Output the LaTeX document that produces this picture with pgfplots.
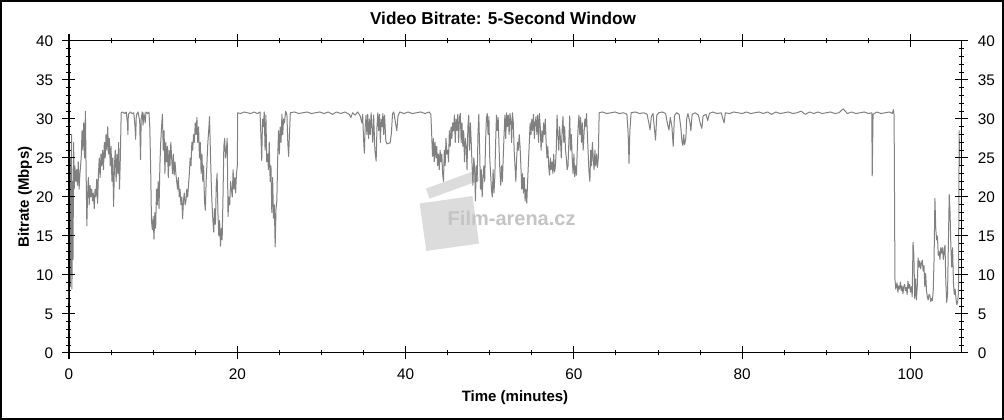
\documentclass[border=0pt]{standalone}
\usepackage{pgfplots}
\pgfplotsset{compat=1.18}
\usepackage{fontspec}
\setmainfont{Liberation Sans}
\definecolor{lineg}{RGB}{128,128,128}
\definecolor{wm}{RGB}{220,220,220}
\definecolor{wmtext}{RGB}{196,196,196}

\pgfplotsset{
  basestyle/.style={
    at={(51.75pt,50.25pt)}, anchor=south west,
    scale only axis, width=669pt, height=234pt,
    xmin=0, xmax=106, ymin=0, ymax=40,
    xtick={0,20,...,100}, ytick={0,5,...,40},
    minor x tick num=3, minor y tick num=4,
    tick align=center,
    major tick length=9.75pt, minor tick length=3.75pt,
    every tick/.style={black, line width=0.75pt},
    axis line style={black, line width=0.75pt},
    /pgf/number format/assume math mode=true,
    ticklabel style={font=\fontsize{11.5}{13}\selectfont},
    clip=false,
  }
}

\pgfplotstableread{
x y
0.00 6.5
0.05 9
0.10 17
0.15 8.5
0.20 25
0.25 10
0.30 28
0.35 8.2
0.42 22
0.48 12
0.55 27
0.62 21
0.70 24
0.80 22
0.90 23.5
1.00 21.5
1.10 24.5
1.20 21
1.30 23
1.45 25
1.55 28.5
1.65 26
1.75 29.5
1.85 25
1.95 31
2.05 22
2.12 16.3
2.20 20
2.30 22.5
2.40 19
2.50 21.5
2.60 20
2.70 21
2.80 19.5
2.90 20.5
3.00 18.5
3.10 21
3.20 20
3.30 22.3
3.40 19.2
3.50 23
3.60 25
3.70 22.5
3.80 25.5
3.90 24
4.00 26
4.10 23.5
4.20 27
4.30 25
4.40 28
4.50 26
4.60 29
4.70 25.5
4.80 27.5
4.90 24
5.00 26.5
5.10 22
5.20 25
5.30 18.8
5.40 24
5.50 26
5.60 22
5.70 25.5
5.80 23
5.90 27
6.00 21
6.10 25
6.20 30.8
6.40 30.9
6.60 30.7
6.80 30.9
6.95 29.5
7.00 28.0
7.05 30.6
7.30 30.9
7.50 30.7
7.70 30.8
7.85 29
7.92 27.4
8.00 30.5
8.20 30.9
8.40 29.8
8.50 24.8
8.58 30
8.70 30.9
8.80 29.2
8.90 30.8
9.05 29.5
9.15 30.9
9.35 30.7
9.50 30.9
9.60 29
9.70 24
9.80 17
9.90 15.8
10.00 17.5
10.10 14.6
10.20 18
10.30 16
10.40 21
10.50 19
10.60 22
10.70 18.5
10.80 24
10.90 27
11.00 29
11.10 30.6
11.20 26
11.30 28.5
11.40 23
11.50 27
11.60 24.5
11.70 26.5
11.80 22.5
11.90 26
12.00 24
12.10 27
12.20 25
12.30 23
12.40 25.5
12.50 22.8
12.60 24.5
12.70 23
12.80 22
12.90 21
13.00 22.5
13.10 20
13.20 21
13.30 19
13.40 20
13.50 17.2
13.60 19.5
13.70 20.5
13.80 19
13.90 19.5
14.00 21
14.10 20
14.20 21.5
14.30 23
14.40 25
14.50 24
14.60 27
14.70 26
14.80 28
14.90 27
15.00 29.5
15.10 28
15.20 30.2
15.30 27
15.40 29
15.50 25
15.60 27
15.70 23
15.80 25.5
15.90 22
16.00 24
16.10 19.5
16.20 18.3
16.30 22
16.40 24.5
16.50 27
16.60 28.5
16.70 30.3
16.80 26
16.90 22
17.00 19
17.10 17
17.20 15.5
17.30 18.5
17.40 16.5
17.50 21.5
17.60 23
17.70 18
17.80 15
17.90 17
18.00 13.7
18.10 16
18.20 14.5
18.30 20
18.40 26.5
18.50 27.5
18.60 25
18.70 26
18.80 27.5
18.90 17.5
19.00 20
19.10 19
19.20 22
19.30 21
19.40 20
19.50 23.5
19.60 21
19.70 22.5
19.80 20.5
19.90 23
20.00 24
20.05 30.8
20.40 30.7
20.80 30.9
21.20 30.8
21.60 30.7
22.00 30.9
22.40 30.7
22.70 30.9
22.80 28
22.90 24.7
23.00 30
23.10 29
23.20 30.9
23.30 26
23.40 30.5
23.50 24.5
23.60 25.5
23.70 23.5
23.80 27
23.90 22
24.00 24
24.10 18
24.20 22.5
24.30 17.3
24.40 19
24.50 13.6
24.60 18.5
24.70 19.5
24.80 25
24.90 28.5
25.00 25.5
25.10 29
25.20 27
25.30 30.6
25.40 28
25.50 30
25.60 29.5
25.75 31
25.90 30.5
26.00 27
26.10 25.2
26.20 28
26.30 30.8
26.8 30.9
27.3 30.7
27.8 30.8
28.3 30.9
28.8 30.7
29.3 30.8
29.8 30.9
30.3 30.7
30.8 30.9
31.3 30.6
31.8 30.9
32.3 30.7
32.8 30.9
33.3 30.6
33.5 30.2
33.7 30.8
34.0 30.5
34.3 30.9
34.6 30.4
34.8 29.5
34.9 30.6
35.00 27.5
35.10 25.6
35.20 29
35.30 30.5
35.40 28
35.50 30.6
35.60 27.5
35.70 30
35.80 28
35.90 30.8
36.00 29
36.10 27
36.20 30.5
36.35 26
36.50 24.6
36.60 29
36.70 30.8
36.80 28.5
36.90 30.6
37.00 27
37.10 30
37.20 29
37.30 30.7
37.40 28
37.50 30.5
37.65 27.2
37.80 26.8
38.00 26.9
38.15 26.9
38.30 28
38.45 30.7
38.60 30.9
38.80 29.5
38.95 28.5
39.10 30.4
39.30 30.9
39.8 30.7
40.3 30.9
40.8 30.7
41.3 30.8
41.8 30.9
42.3 30.7
42.8 30.9
43.00 30.6
43.10 28
43.20 25.2
43.30 27.5
43.40 24.5
43.50 27
43.60 25
43.70 26.5
43.80 24
43.90 25.5
44.00 23.5
44.10 26
44.20 24.5
44.30 25.5
44.40 23
44.50 22
44.60 26
44.70 24
44.80 27.5
44.90 25.5
45.00 26
45.10 24.5
45.20 28.5
45.30 26.5
45.40 29
45.50 27.5
45.60 29.5
45.70 28.5
45.80 30.5
45.90 27
46.00 30
46.10 28.5
46.20 30.6
46.30 27
46.40 30.2
46.50 30.7
46.60 27
46.70 29.5
46.80 26.5
46.90 28.5
47.00 24.5
47.10 27.5
47.20 26.5
47.30 23.5
47.40 29
47.50 30.5
47.60 26
47.70 29.5
47.80 27
47.90 24
48.00 21.5
48.10 25
48.20 23.8
48.30 19.5
48.40 24
48.50 22
48.60 28
48.70 30.6
48.80 26
48.90 21
49.00 23.5
49.10 20
49.20 22.5
49.30 24
49.40 22
49.50 27
49.60 30
49.70 30.7
49.80 28
49.90 30.3
50.00 25
50.10 23
50.20 21
50.30 20
50.40 23.5
50.50 20.5
50.60 22.5
50.70 27
50.80 30.5
50.90 28.5
51.00 30.2
51.10 26.5
51.20 23.5
51.30 21.5
51.40 24
51.50 22
51.60 25
51.70 28
51.80 30.5
51.90 27.5
52.00 30.8
52.10 29
52.20 30.5
52.30 28
52.40 30.7
52.50 30
52.60 27
52.70 30.8
52.80 29.5
52.90 26
53.00 24
53.10 22
53.20 25
53.30 27
53.40 26
53.50 28
53.60 26.5
53.70 24
53.80 21
53.90 23
54.00 20.5
54.10 22.5
54.20 19.5
54.30 21
54.40 19.2
54.50 22
54.60 24.5
54.70 27
54.80 29.5
54.90 28
55.00 30
55.10 28.5
55.20 30.6
55.30 27.5
55.40 29.5
55.50 30.3
55.60 28
55.70 30.5
55.80 27
55.90 30.7
56.00 29
56.10 26
56.20 28.5
56.30 27
56.40 29.5
56.50 28
56.60 30
56.70 27
56.80 25
56.90 26.5
57.00 24
57.10 22.8
57.20 25
57.30 23.5
57.40 24.5
57.50 23
57.60 25.5
57.70 23.2
57.80 24
57.90 26
58.00 30.5
58.10 28
58.20 26
58.30 29
58.40 27.5
58.50 25
58.60 28.5
58.70 30.3
58.80 27
58.90 29
59.00 26
59.10 25
59.20 23.5
59.30 24
59.40 27
59.50 30.4
59.60 26
59.70 28
59.80 25
59.90 23
60.00 25.5
60.10 22.6
60.20 24
60.30 22.8
60.40 26
60.50 29
60.60 30.5
60.70 28
60.80 30.2
60.90 27
61.00 29.5
61.10 26
61.20 28
61.30 30
61.40 29
61.50 30.7
61.60 28
61.70 25.5
61.80 23
61.90 22
62.00 26
62.10 24
62.20 27
62.30 25
62.40 23.5
62.50 26
62.60 24
62.70 25.5
62.80 23.8
62.90 25
63.00 30.8
63.4 30.9
63.9 30.7
64.4 30.8
64.9 30.9
65.4 30.7
65.9 30.8
66.30 30.6
66.45 28
66.55 24.3
66.65 28.5
66.80 30.8
67.3 30.9
67.8 30.7
68.3 30.8
68.7 30.6
68.9 29.5
69.05 28.6
69.20 30.3
69.40 30.7
69.55 29
69.70 27.3
69.85 30.5
70.10 30.8
70.5 30.9
70.9 30.7
71.10 29.5
71.30 28.6
71.45 30.2
71.65 29
71.80 26.5
71.95 30.4
72.20 30.8
72.50 30.6
72.70 29
72.85 27
72.95 26.6
73.05 28
73.15 26.7
73.30 27.5
73.40 30
73.55 30.7
73.80 29.5
73.90 28.5
74.05 30.6
74.40 30.8
74.80 30.5
75.00 29.5
75.20 28.8
75.35 30.4
75.70 30.6
75.90 29.8
76.10 30.7
76.50 30.9
77.00 30.7
77.50 30.8
77.85 29.5
78.00 30.8
78.5 30.7
79.0 30.9
79.5 30.8
80.0 30.7
80.5 30.9
81.0 30.7
81.5 30.8
82.0 30.9
82.5 30.7
83.0 30.9
83.5 30.6
84.0 30.9
84.5 30.7
85.0 30.8
85.5 30.9
86.0 30.7
86.5 30.8
87.0 31.0
87.5 30.6
88.0 30.9
88.5 30.7
89.0 30.9
89.5 30.7
90.0 30.8
90.5 30.9
91.0 30.7
91.5 30.8
92.0 31.3
92.5 30.7
93.0 30.9
93.5 30.7
94.0 30.8
94.5 30.9
95.0 30.7
95.40 30.8
95.45 22.7
95.55 30.6
96.0 30.9
96.5 30.7
97.0 30.8
97.5 30.9
97.85 30.7
97.95 31.2
98.05 30.5
98.15 9.5
98.25 8.2
98.4 9
98.5 7.8
98.6 8.6
98.7 8.2
98.8 9.1
98.9 8
99.0 8.6
99.1 7.6
99.2 8.5
99.3 8.8
99.4 8
99.5 8.4
99.6 7.5
99.7 9.2
99.8 8.3
99.9 8.8
100.0 7.8
100.1 8.5
100.2 7.2
100.3 14.2
100.4 12.5
100.5 7
100.6 9.5
100.7 6.8
100.8 8.5
100.9 12.2
101.0 11
101.1 11.8
101.2 10.8
101.3 11.5
101.4 11.9
101.5 10.5
101.6 11.2
101.7 8.5
101.8 10.2
101.9 8
102.0 7.2
102.1 6.8
102.2 7.5
102.3 7.4
102.4 6.6
102.5 7
102.6 6.7
102.7 8
102.8 12
102.9 19.8
103.0 16
103.1 14.5
103.2 15
103.3 12.5
103.4 13
103.5 12
103.6 13.5
103.7 12.8
103.8 13.5
103.9 12
104.0 13.2
104.1 13.8
104.2 9
104.3 6.5
104.4 7.5
104.5 14
104.6 20.3
104.7 18
104.8 13.5
104.9 11
105.0 13.5
105.1 9
105.2 7.5
105.3 8.2
105.4 7
105.5 6.2
105.6 6.5
105.7 7.8
105.78 28.5
105.83 24
}\bitrate

\begin{document}
\begin{tikzpicture}
\draw[black, line width=1.5pt] (0.75pt,0.75pt) rectangle (752.25pt,314.25pt);
\begin{axis}[basestyle,
  title={Video Bitrate: 5-Second Window},
  title style={at={(axis description cs:0.5,1.048)}, anchor=center,
    yshift=0pt, xshift=-9pt,
    font=\bfseries\fontsize{12.9}{15}\selectfont},
  xlabel={Time (minutes)},
  xlabel style={at={(axis description cs:0.5,-0.144)}, anchor=center,
    font=\bfseries\fontsize{11.25}{13}\selectfont},
  ylabel={Bitrate (Mbps)},
  ylabel style={at={(axis description cs:-0.0493,0.5)}, anchor=center,
    font=\bfseries\fontsize{11.25}{13}\selectfont},
  xticklabel style={anchor=center, yshift=-11.25pt},
  yticklabel style={anchor=east, inner sep=0pt, xshift=-6.75pt},
]
\node[fill=wm, minimum width=40pt, minimum height=36pt, rotate=8, inner sep=0pt]
  at (axis cs:45.2,16.6) {};
\node[fill=wm, minimum width=40pt, minimum height=8pt, rotate=20, inner sep=0pt]
  at (axis cs:45.6,21.6) {};
\node[text=wmtext, font=\bfseries\fontsize{15}{17}\selectfont]
  at (axis cs:52.6,17.2) {Film-arena.cz};
\addplot[lineg, line width=0.75pt, line join=round, mark=none] table[x=x,y=y] {\bitrate};
\end{axis}
\begin{axis}[basestyle,
  yticklabel pos=right,
  xticklabels={},
  yticklabel style={anchor=west, inner sep=0pt, xshift=7.5pt},
]
\addplot[draw=none] coordinates {(0,0)};
\end{axis}
\end{tikzpicture}
\end{document}
